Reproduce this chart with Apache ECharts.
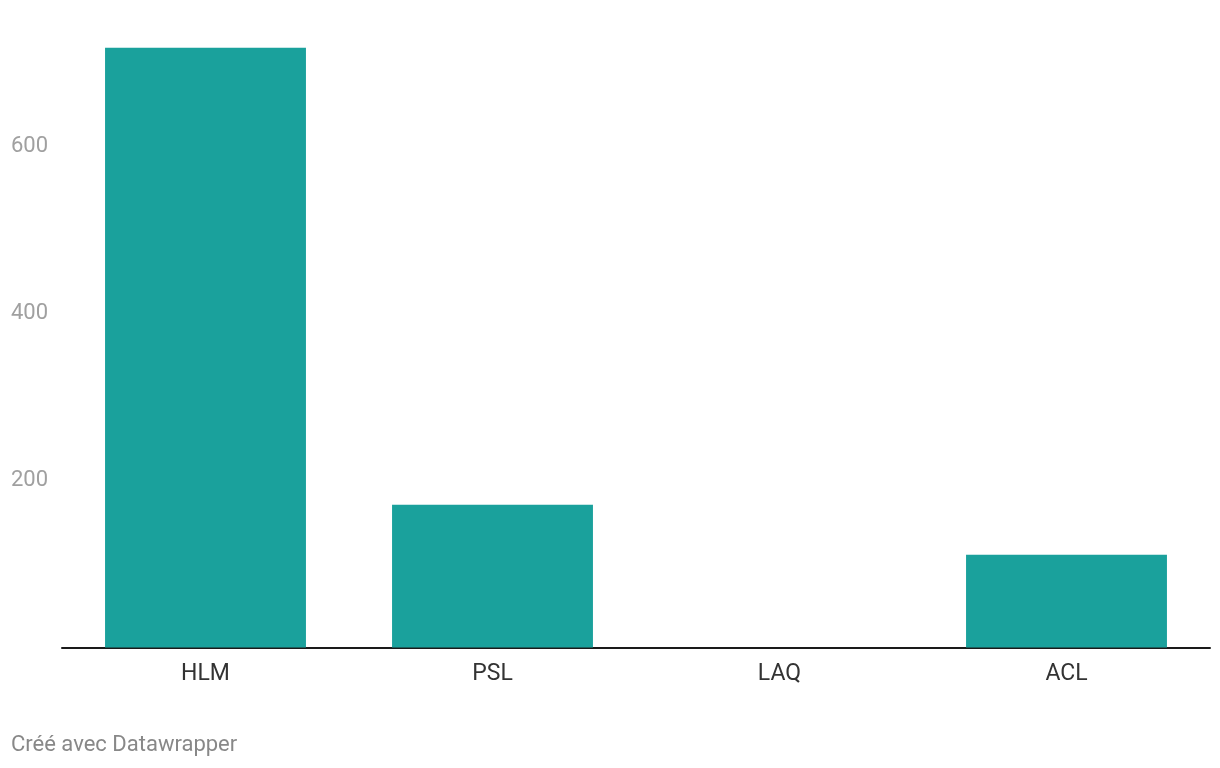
<!DOCTYPE html>
<html>
<head>
<meta charset="utf-8">
<script src="https://cdn.jsdelivr.net/npm/echarts@6/dist/echarts.min.js"></script>
<style>
html,body{margin:0;padding:0;background:#fff;}
#chart{width:1220px;height:768px;}
</style>
</head>
<body>
<div id="chart"></div>
<script>
const categories = ['HLM', 'PSL', 'LAQ', 'ACL'];
const values = [718, 171, 0, 111];
const yTicks = [200, 400, 600];
const footerText = 'Créé avec Datawrapper';

const chart = echarts.init(document.getElementById('chart'), null, {renderer: 'canvas'});
chart.setOption({
  animation: false,
  backgroundColor: '#ffffff',
  textStyle: {fontFamily: 'Roboto'},
  grid: {left: 62, right: 10, top: 21, bottom: 120.5, containLabel: false},
  xAxis: {
    type: 'category',
    data: categories,
    axisLine: {show: true, lineStyle: {color: '#1a1a1a', width: 2}},
    axisTick: {show: false},
    axisLabel: {color: '#333333', fontSize: 23, fontFamily: 'Roboto', margin: 15}
  },
  yAxis: {
    type: 'value',
    min: 0,
    max: 750,
    interval: 200,
    splitLine: {show: false},
    axisLine: {show: false},
    axisTick: {show: false},
    axisLabel: {
      color: '#a0a0a0', fontSize: 22, fontFamily: 'Roboto', align: 'left', margin: 51,
      verticalAlign: 'middle', padding: [2, 0, 0, 0],
      showMinLabel: false, showMaxLabel: false,
      formatter: v => yTicks.includes(v) ? String(v) : ''
    }
  },
  series: [{
    type: 'bar',
    data: values,
    barCategoryGap: '30%',
    itemStyle: {color: '#1aa19c'}
  }],
  graphic: [{
    type: 'text',
    left: 11,
    top: 734,
    style: {text: footerText, fill: '#888888', fontSize: 22, fontFamily: 'Roboto'}
  }]
});
</script>
</body>
</html>
